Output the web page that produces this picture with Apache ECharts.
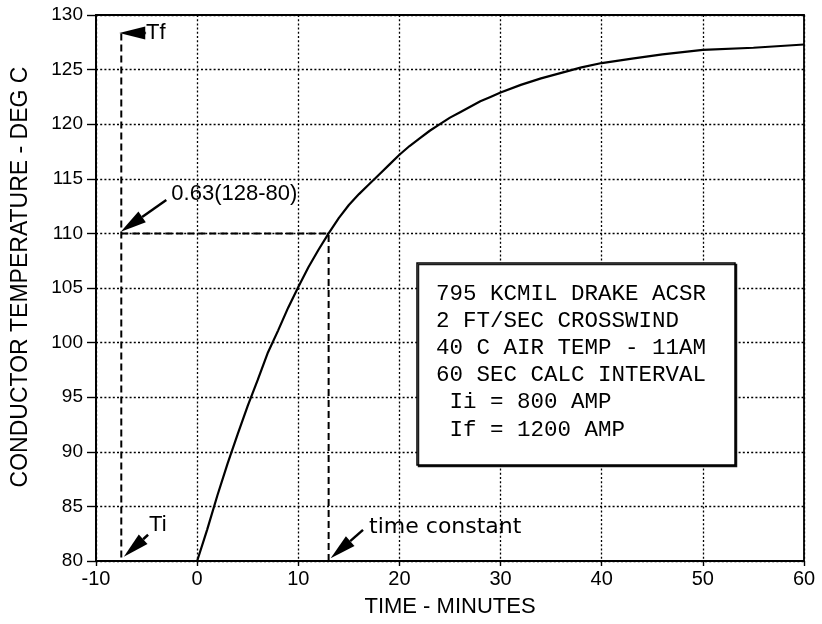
<!DOCTYPE html>
<html>
<head>
<meta charset="utf-8">
<script src="https://cdn.jsdelivr.net/npm/echarts@6/dist/echarts.min.js"></script>
<style>html,body{margin:0;padding:0;background:#fff}#c{width:822px;height:624px}</style>
</head>
<body>
<div id="c"></div>
<script>
// Curve readings: time (min) and conductor temperature (deg C)
const timeMin = [-10, 0, 1, 2, 3, 4, 5, 6, 7, 8, 9, 10, 11, 12, 13, 14, 15, 16, 17, 18, 19, 20, 21, 22, 23, 24, 25, 26, 27, 28, 29, 30, 32, 34, 36, 38, 40, 43, 46, 50, 55, 60];
const tempC   = [80, 80, 82.9, 86.0, 88.9, 91.6, 94.2, 96.6, 99.1, 101.1, 103.2, 105.1, 106.9, 108.5, 110.0, 111.4, 112.6, 113.6, 114.5, 115.4, 116.3, 117.2, 118.0, 118.7, 119.4, 120.0, 120.6, 121.1, 121.6, 122.1, 122.5, 122.9, 123.6, 124.2, 124.7, 125.2, 125.6, 126.0, 126.4, 126.8, 127.0, 127.3];

// Guide (dashed) lines
const guideTf   = [[-7.5, 128.3], [-7.5, 80]];
const guide63   = [[-7.5, 110], [13, 110]];
const guideTau  = [[13, 80], [13, 110]];

// Annotation arrows: tip and tail in data units
const arrowTips  = [[-7.7, 128.35], [-7.25, 80.4], [-7.55, 110.15], [13.2, 80.25]];
const arrowTails = [[-5.05, 128.35], [-4.85, 82.4], [-3.05, 113.05], [16.4, 82.85]];
const annTexts   = ['Tf', 'Ti', '0.63(128-80)', 'time constant'];
const annTextPos = [[-5.05, 128.35], [-4.75, 83.3], [-2.55, 113.6], [17.0, 83.1]];

const boxLines = ['795 KCMIL DRAKE ACSR', '2 FT/SEC CROSSWIND', '40 C AIR TEMP - 11AM', '60 SEC CALC INTERVAL', ' Ii = 800 AMP', ' If = 1200 AMP'];

const xTicks = [-10, 0, 10, 20, 30, 40, 50, 60];
const yTicks = [80, 85, 90, 95, 100, 105, 110, 115, 120, 125, 130];

const curve = timeMin.map((t, i) => [t, tempC[i]]);
const arrowData = arrowTips.map((p, i) => [p[0], p[1], arrowTails[i][0], arrowTails[i][1], annTextPos[i][0], annTextPos[i][1], i]);

const chart = echarts.init(document.getElementById('c'), null, {renderer: 'canvas'});
const dotted = {color: '#000', width: 1.3, type: [2, 2.2]};
const dashStyle = {color: '#000', width: 2, type: [7, 4]};

chart.setOption({
  animation: false,
  backgroundColor: '#fff',
  grid: {left: 96, right: 18, top: 15, bottom: 63, show: true, borderColor: '#000', borderWidth: 1.8, backgroundColor: 'transparent'},
  xAxis: {
    type: 'value', min: xTicks[0], max: xTicks[xTicks.length - 1], interval: 10,
    name: 'TIME - MINUTES', nameLocation: 'middle', nameGap: 35,
    nameTextStyle: {fontFamily: 'Liberation Sans', fontSize: 22, color: '#000'},
    axisLine: {show: true, onZero: false, lineStyle: {color: '#000', width: 1.8}},
    axisTick: {show: true, length: 5, lineStyle: {color: '#000', width: 1.4}},
    axisLabel: {fontFamily: 'Liberation Sans', fontSize: 20, color: '#000', margin: 8},
    splitLine: {show: true, lineStyle: dotted}
  },
  yAxis: {
    type: 'value', min: yTicks[0], max: yTicks[yTicks.length - 1], interval: 5,
    axisLine: {show: true, onZero: false, lineStyle: {color: '#000', width: 1.8}},
    axisTick: {show: true, length: 9, lineStyle: {color: '#000', width: 1.4}},
    axisLabel: {fontFamily: 'Liberation Sans', fontSize: 19, color: '#000', margin: 13},
    splitLine: {show: true, lineStyle: dotted}
  },
  graphic: [
    {type: 'text', x: 21, y: 277, rotation: Math.PI / 2, style: {text: 'CONDUCTOR TEMPERATURE - DEG C', font: '23px "Liberation Sans"', fill: '#000', align: 'center', verticalAlign: 'middle'}},
    {type: 'rect', shape: {x: 417, y: 263, width: 318, height: 202}, style: {fill: '#fff', stroke: '#000', lineWidth: 1.5, shadowColor: 'rgba(0,0,0,0.9)', shadowOffsetX: 1.5, shadowOffsetY: 1.5, shadowBlur: 0}, z: 10},
    {type: 'text', x: 436, y: 280, z: 11, style: {text: boxLines.join('\n'), font: '22.5px "Liberation Mono"', lineHeight: 27.2, fill: '#000', align: 'left', verticalAlign: 'top'}}
  ],
  series: [
    {type: 'line', data: curve, showSymbol: false, smooth: false, lineStyle: {color: '#000', width: 2.2}, z: 5},
    {type: 'line', data: guideTf, showSymbol: false, lineStyle: dashStyle, z: 4},
    {type: 'line', data: guide63, showSymbol: false, lineStyle: dashStyle, z: 4},
    {type: 'line', data: guideTau, showSymbol: false, lineStyle: dashStyle, z: 4},
    {
      type: 'custom', data: arrowData, z: 6,
      renderItem: function (params, api) {
        const tip = api.coord([api.value(0), api.value(1)]);
        const tail = api.coord([api.value(2), api.value(3)]);
        const tpos = api.coord([api.value(4), api.value(5)]);
        const idx = api.value(6);
        const dx = tail[0] - tip[0], dy = tail[1] - tip[1];
        const L = Math.sqrt(dx * dx + dy * dy);
        const ux = dx / L, uy = dy / L;
        const headLen = Math.min(26, L);
        const hw = 6.5;
        const bx = tip[0] + ux * headLen, by = tip[1] + uy * headLen;
        const px = -uy, py = ux;
        const children = [
          {type: 'polygon', shape: {points: [tip, [bx + px * hw, by + py * hw], [bx - px * hw, by - py * hw]]}, style: {fill: '#000'}}
        ];
        if (L > headLen + 0.5) {
          children.push({type: 'line', shape: {x1: bx, y1: by, x2: tail[0], y2: tail[1]}, style: {stroke: '#000', lineWidth: 2.5}});
        }
        const isTC = idx === 3;
        children.push({type: 'text', x: tpos[0], y: tpos[1], style: {text: annTexts[idx], font: (isTC ? '22px "DejaVu Sans"' : '22px "Liberation Sans"'), fill: '#000', align: 'left', verticalAlign: 'middle'}});
        return {type: 'group', children: children};
      }
    }
  ]
});
</script>
</body>
</html>
